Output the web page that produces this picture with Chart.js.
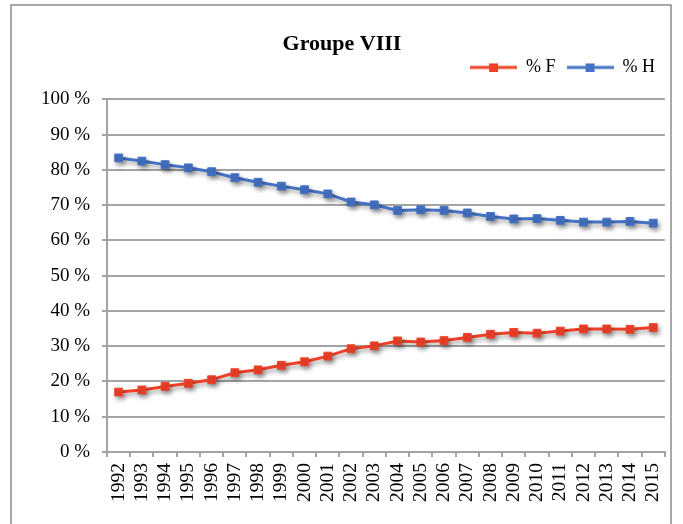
<!DOCTYPE html>
<html lang="fr">
<head>
<meta charset="utf-8">
<title>Groupe VIII</title>
<script src="https://cdn.jsdelivr.net/npm/chart.js@4/dist/chart.umd.min.js"></script>
<style>
  html, body { margin: 0; padding: 0; background: #ffffff; }
  canvas { display: block; }
</style>
</head>
<body>
<canvas id="chart" width="683" height="524"></canvas>
<script>
// Part des femmes (% F) et des hommes (% H) dans le groupe VIII, 1992-2015
const years = ['1992', '1993', '1994', '1995', '1996', '1997', '1998', '1999', '2000', '2001', '2002', '2003',
               '2004', '2005', '2006', '2007', '2008', '2009', '2010', '2011', '2012', '2013', '2014', '2015'];
const pctF = [17.0, 17.6, 18.6, 19.5, 20.5, 22.5, 23.3, 24.6, 25.6, 27.2, 29.3, 30.1,
              31.5, 31.2, 31.6, 32.5, 33.4, 33.9, 33.7, 34.3, 34.9, 34.9, 34.8, 35.3];
const pctH = [83.4, 82.5, 81.5, 80.6, 79.5, 77.8, 76.5, 75.4, 74.4, 73.2, 70.9, 70.1,
              68.5, 68.7, 68.5, 67.8, 66.8, 66.1, 66.2, 65.7, 65.2, 65.2, 65.4, 64.9];
const yTicks = [0, 10, 20, 30, 40, 50, 60, 70, 80, 90, 100];
const seriesNames = ['% F', '% H'];

const RED = '#EF4129';
const BLUE = '#4472C4';
const GRID = '#a3a3a3';
const SERIF = '"Liberation Serif", "Times New Roman", serif';

// Legend sample: a short line with a square marker in its middle
function legendSample(color) {
  const c = document.createElement('canvas');
  c.width = 47; c.height = 10;
  const g = c.getContext('2d');
  g.strokeStyle = color;
  g.lineWidth = 3;
  g.beginPath(); g.moveTo(0, 5); g.lineTo(47, 5); g.stroke();
  g.fillStyle = color;
  g.fillRect(19, 1, 9, 9);
  return c;
}

// Outer frame around the whole figure
const framePlugin = {
  id: 'frame',
  beforeDraw(chart) {
    const ctx = chart.ctx;
    ctx.save();
    ctx.fillStyle = '#ffffff';
    ctx.fillRect(0, 0, chart.width, chart.height);
    ctx.strokeStyle = '#8c8c8c';
    ctx.lineWidth = 1.5;
    ctx.strokeRect(11, 5, 660, 600);
    ctx.restore();
  }
};

// Soft drop shadow under lines and markers
const shadowPlugin = {
  id: 'shadow',
  beforeDatasetsDraw(chart) {
    const ctx = chart.ctx;
    ctx.save();
    ctx.shadowColor = 'rgba(0,0,0,0.35)';
    ctx.shadowBlur = 4;
    ctx.shadowOffsetX = 2;
    ctx.shadowOffsetY = 3;
  },
  afterDatasetsDraw(chart) {
    chart.ctx.restore();
  }
};

// Nudge the title to the right and lift the legend row closer to it
const headerShift = {
  id: 'headerShift',
  afterLayout(chart) {
    const lg = chart.legend;
    if (lg) { lg.top -= 13; lg.bottom -= 13; }
    const tb = chart.titleBlock;
    if (tb) { tb.left += 9; tb.right += 9; }
  }
};

new Chart(document.getElementById('chart'), {
  type: 'line',
  data: {
    labels: years,
    datasets: [
      {
        label: seriesNames[0],
        data: pctF,
        borderColor: RED,
        backgroundColor: RED,
        borderWidth: 3,
        pointStyle: 'rect',
        pointRadius: 5.5,
        pointBorderWidth: 1,
        pointBorderColor: RED,
        pointBackgroundColor: RED,
        tension: 0
      },
      {
        label: seriesNames[1],
        data: pctH,
        borderColor: BLUE,
        backgroundColor: BLUE,
        borderWidth: 3,
        pointStyle: 'rect',
        pointRadius: 5.5,
        pointBorderWidth: 1,
        pointBorderColor: BLUE,
        pointBackgroundColor: BLUE,
        tension: 0
      }
    ]
  },
  options: {
    responsive: false,
    animation: false,
    layout: { padding: { top: 0, right: 17, bottom: 0, left: 0 } },
    plugins: {
      title: {
        display: true,
        text: 'Groupe VIII',
        color: '#000000',
        font: { family: SERIF, size: 22, weight: 'bold', lineHeight: 1.2 },
        padding: { top: 31, bottom: 3 }
      },
      legend: {
        display: true,
        position: 'top',
        align: 'end',
        labels: {
          color: '#000000',
          font: { family: SERIF, size: 18 },
          usePointStyle: true,
          pointStyleWidth: 47,
          padding: 11,
          generateLabels(chart) {
            return chart.data.datasets.map((ds, i) => ({
              text: ds.label,
              fillStyle: ds.borderColor,
              strokeStyle: ds.borderColor,
              lineWidth: 0,
              pointStyle: legendSample(ds.borderColor),
              fontColor: '#000000',
              hidden: false,
              datasetIndex: i
            }));
          }
        }
      },
      tooltip: { enabled: false }
    },
    scales: {
      x: {
        type: 'category',
        offset: true,
        afterFit(scale) { scale.height = 72; },
        grid: {
          display: true,
          drawOnChartArea: false,
          drawTicks: true,
          tickLength: 5,
          offset: true,
          color: GRID,
          lineWidth: 2
        },
        border: { display: true, color: GRID, width: 2 },
        ticks: {
          autoSkip: false,
          minRotation: 90,
          maxRotation: 90,
          padding: 6,
          color: '#000000',
          font: { family: SERIF, size: 19.5 }
        }
      },
      y: {
        min: 0,
        max: 100,
        afterFit(scale) { scale.width = 107; },
        afterBuildTicks(scale) { scale.ticks = yTicks.map(v => ({ value: v })); },
        grid: {
          display: true,
          drawOnChartArea: true,
          drawTicks: true,
          tickLength: 5,
          color: GRID,
          lineWidth: 2
        },
        border: { display: true, color: GRID, width: 2 },
        ticks: {
          padding: 12,
          color: '#000000',
          font: { family: SERIF, size: 19 },
          callback: (v) => v + ' %'
        }
      }
    }
  },
  plugins: [framePlugin, shadowPlugin, headerShift]
});
</script>
</body>
</html>
